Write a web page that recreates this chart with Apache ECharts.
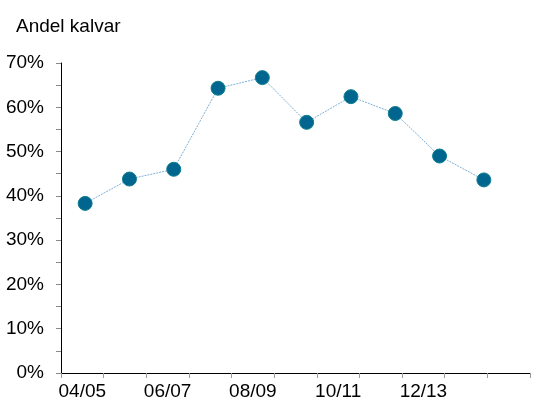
<!DOCTYPE html>
<html><head><meta charset="utf-8">
<script src="https://cdn.jsdelivr.net/npm/echarts@6/dist/echarts.min.js"></script>
<style>html,body{margin:0;padding:0;background:#fff}#c{width:543px;height:403px}</style>
</head><body><div id="c"></div>
<script>
var axisCategories = ['04/05','05/06','06/07','07/08','08/09','09/10','10/11','11/12','12/13','13/14',''];
var seasons = ['04/05','05/06','06/07','07/08','08/09','09/10','10/11','11/12','12/13','13/14'];
var andelKalvar = [38.3, 43.8, 46.0, 64.3, 66.7, 56.6, 62.4, 58.6, 49.0, 43.6];
var yTicks = [0, 10, 20, 30, 40, 50, 60, 70];

var font = 'Liberation Sans, Arial, sans-serif';
var chart = echarts.init(document.getElementById('c'), null, {renderer: 'canvas'});
chart.setOption({
  animation: false,
  title: {text: 'Andel kalvar', left: 11, top: 12,
    textStyle: {fontFamily: font, fontSize: 19, fontWeight: 'normal', color: '#000'}},
  grid: [
    {left: 61, right: 13, top: 63, bottom: 30, containLabel: false},
    {left: 63, right: 37, top: 63, bottom: 30, containLabel: false}
  ],
  xAxis: [
    {type: 'category', gridIndex: 0, data: axisCategories, boundaryGap: true,
      axisLine: {lineStyle: {color: '#000', width: 1}},
      axisTick: {show: true, length: 5, lineStyle: {color: '#999'}, alignWithLabel: false, interval: 0},
      axisLabel: {interval: 1, margin: 9, fontFamily: font, fontSize: 19, color: '#000'},
      splitLine: {show: false}},
    {type: 'category', gridIndex: 1, data: seasons, boundaryGap: true, show: false}
  ],
  yAxis: [
    {type: 'value', gridIndex: 0, min: yTicks[0], max: yTicks[yTicks.length-1], interval: 10,
      axisLine: {show: true, lineStyle: {color: '#000', width: 1}},
      axisTick: {show: true, length: 5, lineStyle: {color: '#888'}},
      minorTick: {show: true, splitNumber: 2, length: 5, lineStyle: {color: '#888'}},
      axisLabel: {margin: 17, formatter: '{value}%', fontFamily: font, fontSize: 19, color: '#000'},
      splitLine: {show: false}},
    {type: 'value', gridIndex: 1, min: yTicks[0], max: yTicks[yTicks.length-1], interval: 10, show: false}
  ],
  series: [{
    type: 'line', xAxisIndex: 1, yAxisIndex: 1, data: andelKalvar,
    symbol: 'circle', symbolSize: 14,
    itemStyle: {color: '#00658F', borderColor: '#0E7E8E', borderWidth: 1},
    lineStyle: {color: '#7FB0D6', width: 1, type: [2, 1]}
  }]
});
</script></body></html>
